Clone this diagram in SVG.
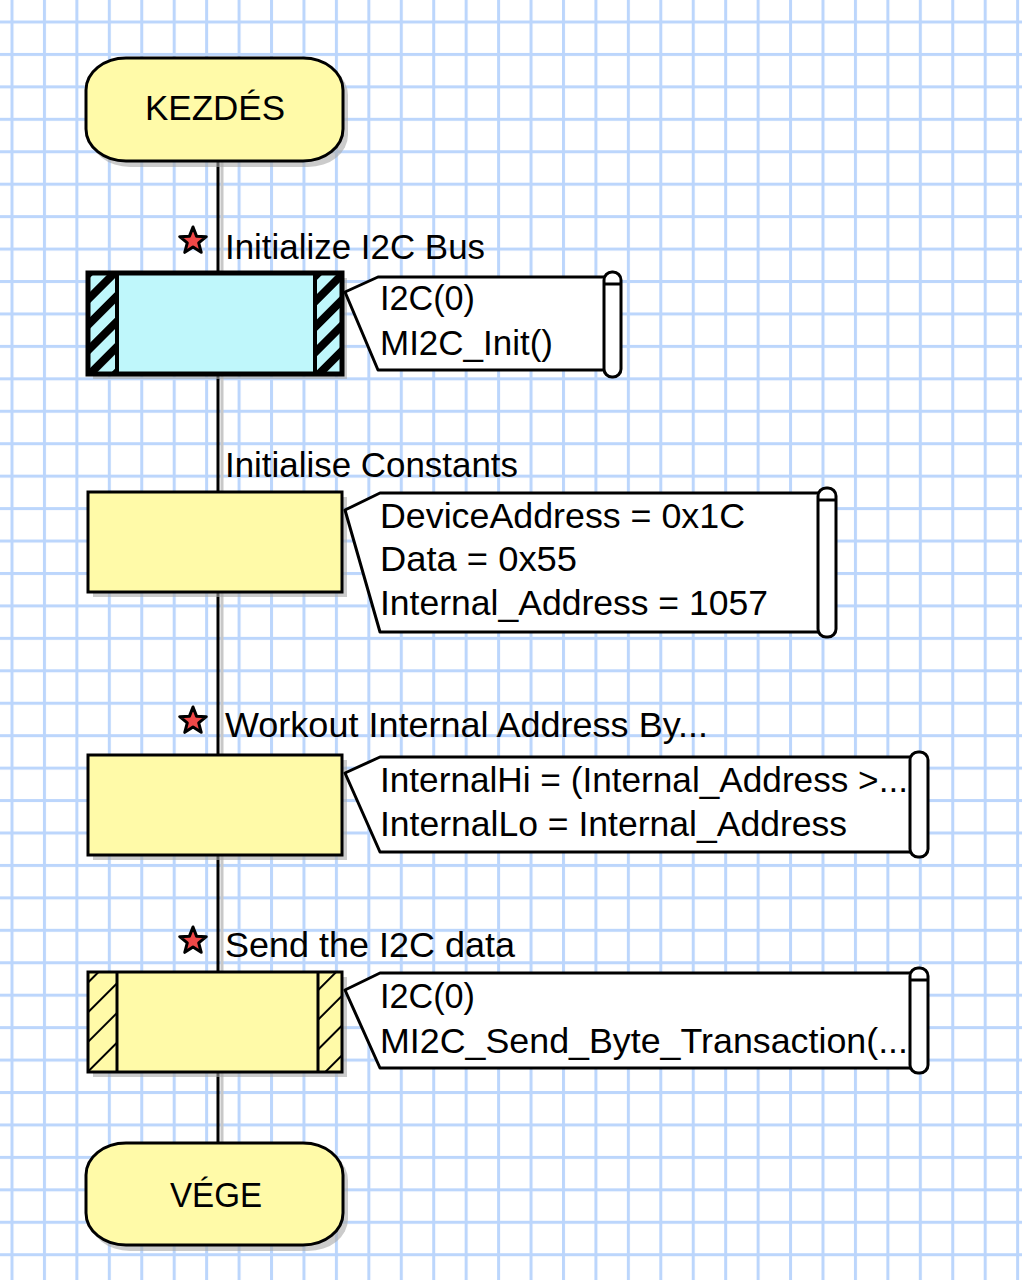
<svg xmlns="http://www.w3.org/2000/svg" width="1022" height="1280" viewBox="0 0 1022 1280">
<defs>
<pattern id="grid" patternUnits="userSpaceOnUse" x="10.5" y="20.5" width="32.44" height="32.44">
<rect x="0" y="0" width="32.44" height="32.44" fill="#ffffff"/>
<rect x="0" y="0" width="3" height="32.44" fill="#bcd6fc"/>
<rect x="0" y="0" width="32.44" height="3" fill="#bcd6fc"/>
</pattern>
<pattern id="hatchCyan" patternUnits="userSpaceOnUse" width="18" height="18" patternTransform="rotate(45)">
<rect width="18" height="18" fill="#bff7fb"/>
<rect width="8" height="18" fill="#000"/>
</pattern>
<pattern id="hatchYellow" patternUnits="userSpaceOnUse" width="21" height="21" patternTransform="rotate(45)">
<rect width="21" height="21" fill="#fffaa8"/>
<rect width="2" height="21" fill="#000"/>
</pattern>
<polygon id="star" points="0,-14 3.53,-4.85 13.31,-4.33 5.71,1.85 8.23,11.33 0,6 -8.23,11.33 -5.71,1.85 -13.31,-4.33 -3.53,-4.85"/>
<style>
.txt{font-family:"Liberation Sans",Arial,sans-serif;font-size:35px;fill:#000}
.term{fill:#fffaa8;stroke:#000;stroke-width:3}
.shadow{fill:#a8a8a8;opacity:0.6}
.box{fill:#fffaa8;stroke:#000;stroke-width:3}
.call{fill:#fff;stroke:#000;stroke-width:3;stroke-linejoin:round}
.scroll{fill:#fff;stroke:#000;stroke-width:3}
.star{fill:#f04848;stroke:#000;stroke-width:3;stroke-linejoin:round}
</style>
</defs>
<rect x="0" y="0" width="1022" height="1280" fill="url(#grid)"/>

<g id="connectors">
<line x1="222" y1="162" x2="222" y2="1143" stroke="#c8c8c8" stroke-width="3"/>
<line x1="218" y1="160" x2="218" y2="1145" stroke="#000" stroke-width="3"/>
</g>

<g id="start">
<rect x="90" y="63" width="258" height="104" rx="40" ry="32" class="shadow"/>
<rect x="86" y="58" width="257" height="103" rx="40" ry="32" class="term"/>
<text x="215" y="120" text-anchor="middle" class="txt" textLength="140" lengthAdjust="spacingAndGlyphs">KEZDÉS</text>
</g>

<g id="init-i2c">
<use href="#star" x="193" y="241" class="star"/>
<text x="225" y="259" class="txt" textLength="260" lengthAdjust="spacingAndGlyphs">Initialize I2C Bus</text>
<rect x="93" y="278" width="254" height="101" class="shadow"/>
<rect x="88" y="273" width="254" height="101" fill="#bff7fb"/>
<rect x="88" y="273" width="29" height="101" fill="url(#hatchCyan)"/>
<rect x="315" y="273" width="27" height="101" fill="url(#hatchCyan)"/>
<line x1="117" y1="273" x2="117" y2="374" stroke="#000" stroke-width="4"/>
<line x1="315" y1="273" x2="315" y2="374" stroke="#000" stroke-width="4"/>
<rect x="88" y="273" width="254" height="101" fill="none" stroke="#000" stroke-width="5"/>
<polygon points="345,292 378,277 607,277 607,370 378,370" class="call"/>
<rect x="604" y="272" width="17" height="105" rx="8" class="scroll"/>
<line x1="604" y1="284" x2="621" y2="284" stroke="#000" stroke-width="3"/>
<text x="380" y="310" class="txt" textLength="95" lengthAdjust="spacingAndGlyphs">I2C(0)</text>
<text x="380" y="355" class="txt" textLength="173" lengthAdjust="spacingAndGlyphs">MI2C_Init()</text>
</g>

<g id="init-constants">
<text x="225" y="477" class="txt" textLength="293" lengthAdjust="spacingAndGlyphs">Initialise Constants</text>
<rect x="93" y="497" width="254" height="100" class="shadow"/>
<rect x="88" y="492" width="254" height="100" class="box"/>
<polygon points="345,510 380,493 820,493 820,632 380,632" class="call"/>
<rect x="818" y="488" width="18" height="149" rx="8" class="scroll"/>
<line x1="818" y1="500" x2="836" y2="500" stroke="#000" stroke-width="3"/>
<text x="380" y="528" class="txt" textLength="365" lengthAdjust="spacingAndGlyphs">DeviceAddress = 0x1C</text>
<text x="380" y="571" class="txt" textLength="197" lengthAdjust="spacingAndGlyphs">Data = 0x55</text>
<text x="380" y="615" class="txt" textLength="388" lengthAdjust="spacingAndGlyphs">Internal_Address = 1057</text>
</g>

<g id="workout-address">
<use href="#star" x="193" y="721" class="star"/>
<text x="225" y="737" class="txt" textLength="483" lengthAdjust="spacingAndGlyphs">Workout Internal Address By...</text>
<rect x="93" y="760" width="254" height="100" class="shadow"/>
<rect x="88" y="755" width="254" height="100" class="box"/>
<polygon points="345,773 380,757 912,757 912,852 380,852" class="call"/>
<rect x="910" y="752" width="18" height="105" rx="8" class="scroll"/>
<text x="380" y="792" class="txt" textLength="528" lengthAdjust="spacingAndGlyphs">InternalHi = (Internal_Address &gt;...</text>
<text x="380" y="836" class="txt" textLength="467" lengthAdjust="spacingAndGlyphs">InternalLo = Internal_Address</text>
</g>

<g id="send-data">
<use href="#star" x="193" y="941" class="star"/>
<text x="225" y="957" class="txt" textLength="290" lengthAdjust="spacingAndGlyphs">Send the I2C data</text>
<rect x="93" y="977" width="254" height="100" class="shadow"/>
<rect x="88" y="972" width="254" height="100" fill="#fffaa8"/>
<rect x="88" y="972" width="29" height="100" fill="url(#hatchYellow)"/>
<rect x="318" y="972" width="24" height="100" fill="url(#hatchYellow)"/>
<line x1="117" y1="972" x2="117" y2="1072" stroke="#000" stroke-width="3"/>
<line x1="318" y1="972" x2="318" y2="1072" stroke="#000" stroke-width="3"/>
<rect x="88" y="972" width="254" height="100" fill="none" stroke="#000" stroke-width="3"/>
<polygon points="345,990 380,973 912,973 912,1068 380,1068" class="call"/>
<rect x="910" y="968" width="18" height="105" rx="8" class="scroll"/>
<line x1="910" y1="980" x2="928" y2="980" stroke="#000" stroke-width="3"/>
<text x="380" y="1008" class="txt" textLength="95" lengthAdjust="spacingAndGlyphs">I2C(0)</text>
<text x="380" y="1053" class="txt" textLength="528" lengthAdjust="spacingAndGlyphs">MI2C_Send_Byte_Transaction(...</text>
</g>

<g id="end">
<rect x="90" y="1148" width="258" height="103" rx="40" ry="32" class="shadow"/>
<rect x="86" y="1143" width="257" height="102" rx="40" ry="32" class="term"/>
<text x="170" y="1207" class="txt" textLength="92" lengthAdjust="spacingAndGlyphs">VÉGE</text>
</g>
</svg>
